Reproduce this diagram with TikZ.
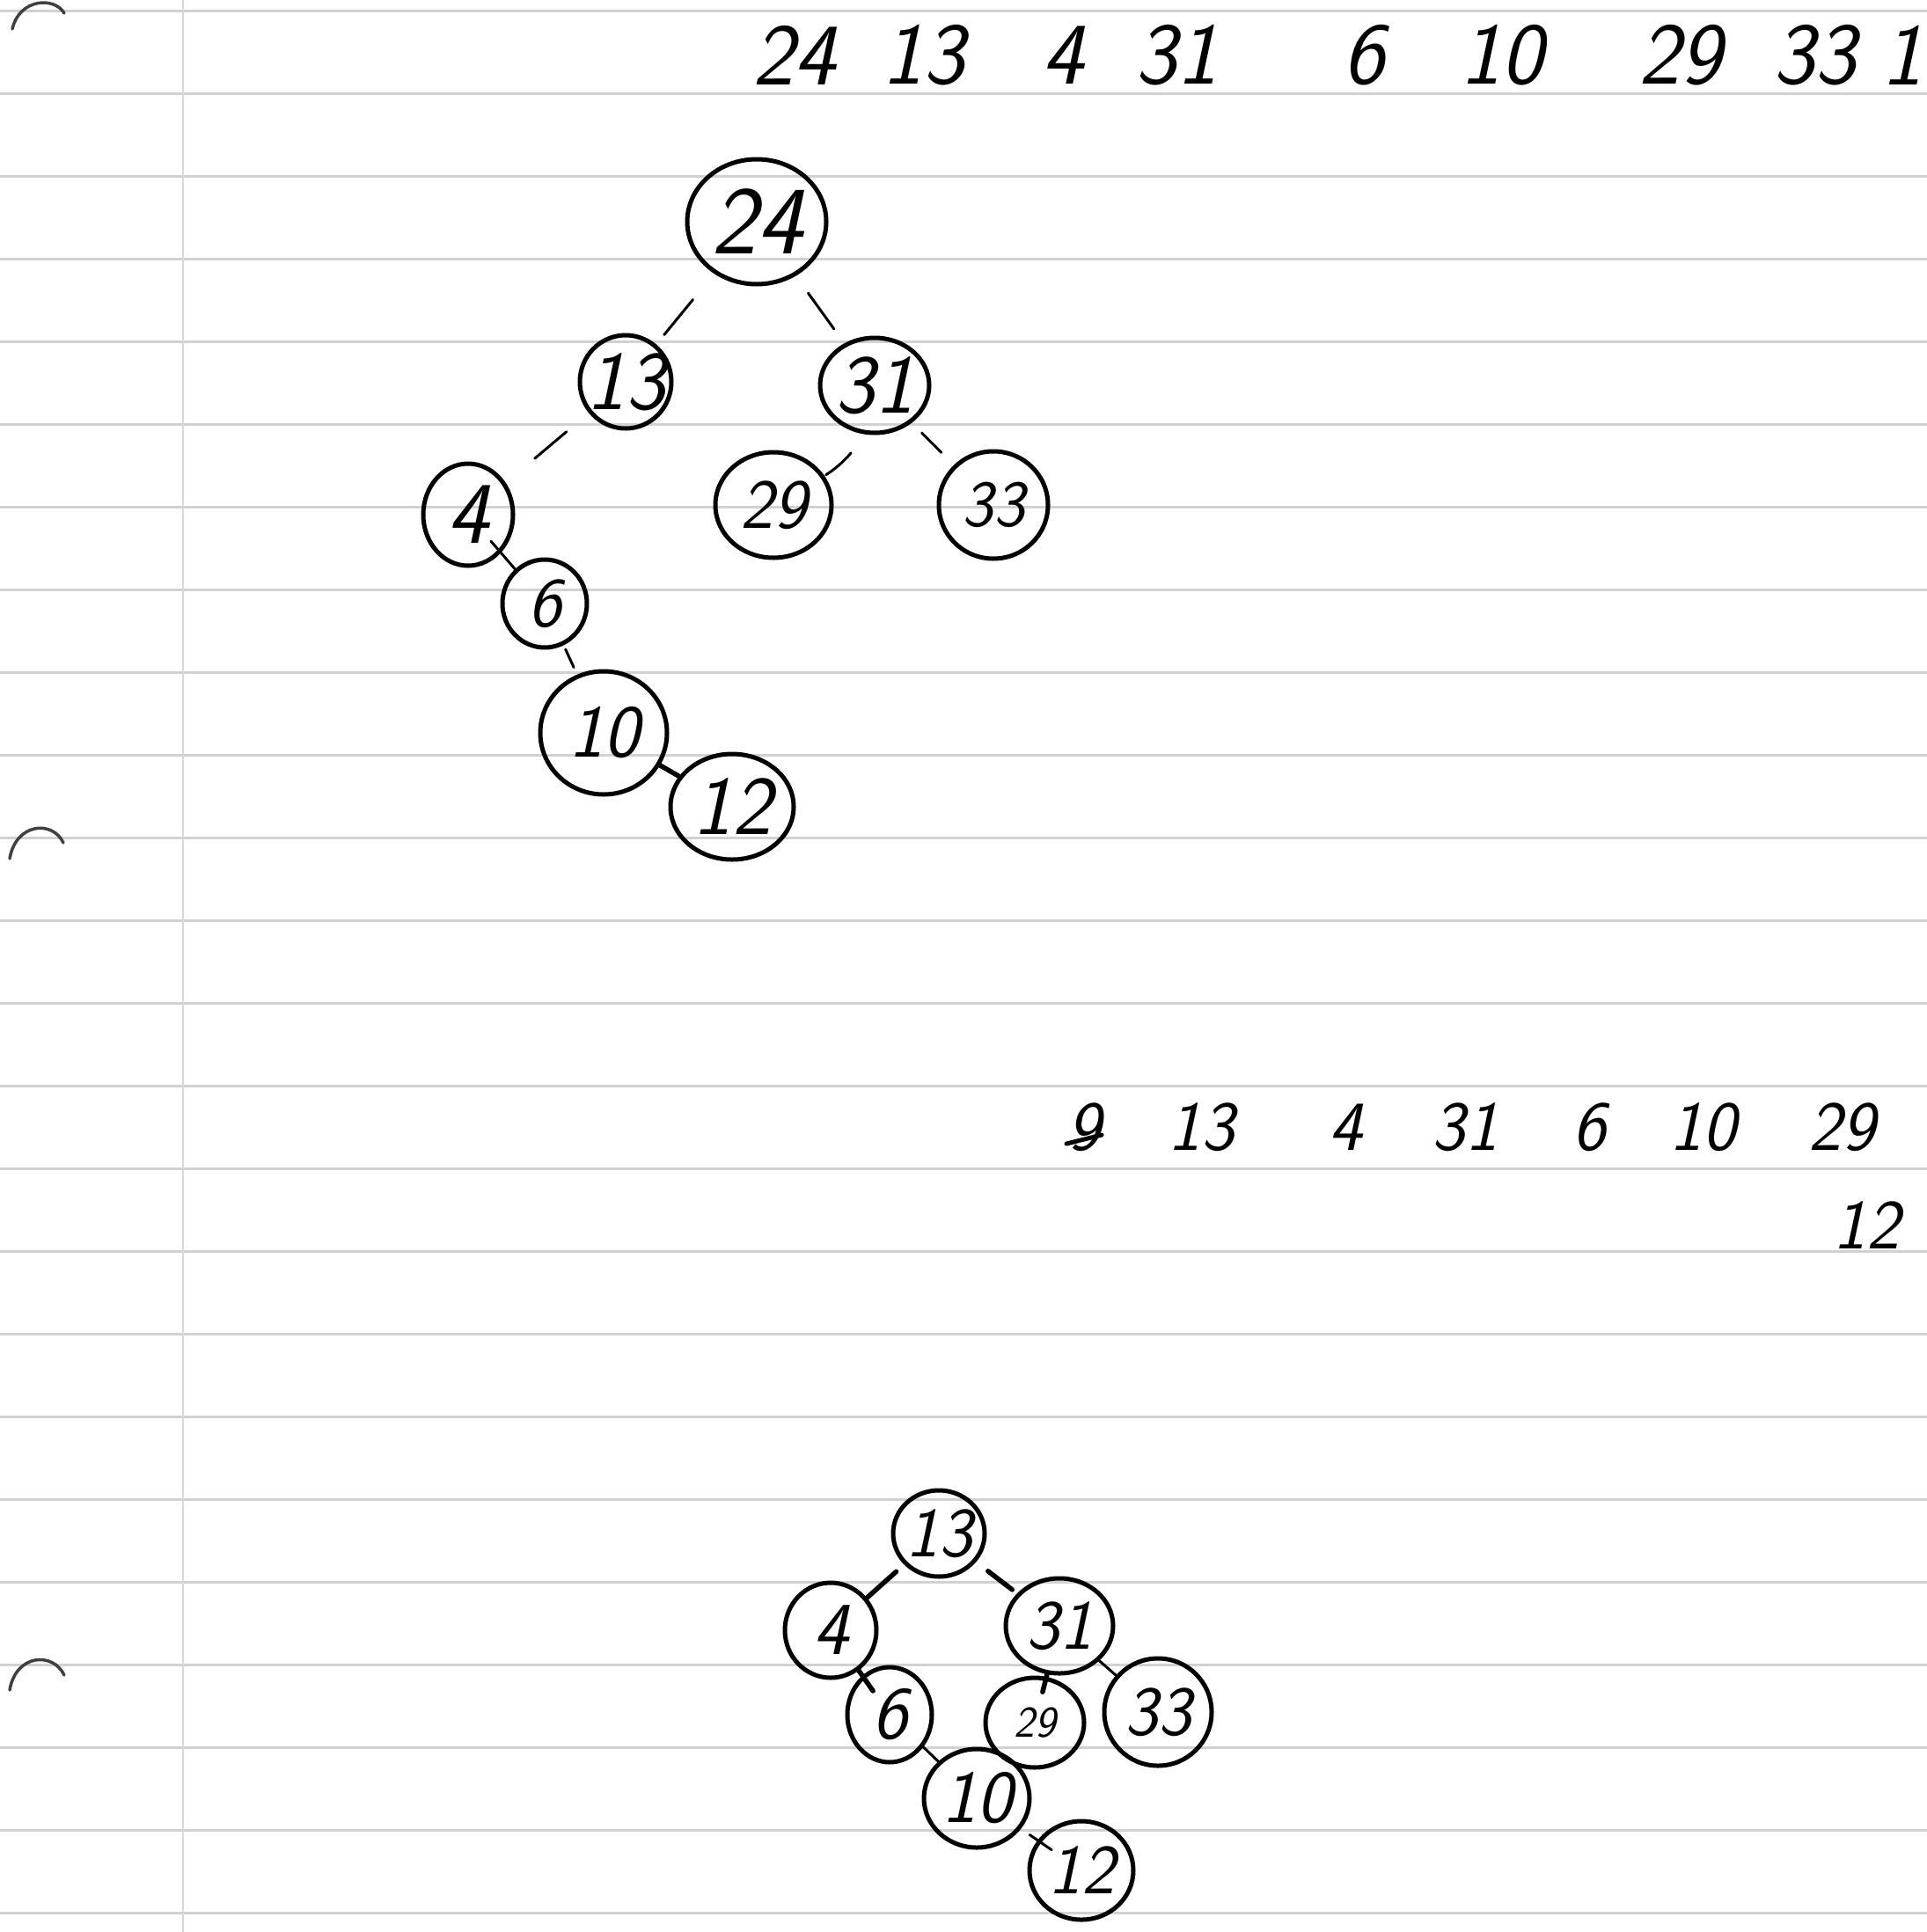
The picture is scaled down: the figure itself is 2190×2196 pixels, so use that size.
\documentclass[tikz,border=0pt]{standalone}
\usetikzlibrary{shapes.geometric}
\newcommand{\hwf}[1]{\fontsize{#1}{#1}\selectfont\sffamily\slshape}
\begin{document}
\begin{tikzpicture}[x=1pt,y=-1pt,
  rule/.style={draw=black!18, line width=3pt},
  hole/.style={draw=black!75, line width=3.5pt, line cap=round},
  bubble/.style={draw=black, line width=5pt, ellipse, inner sep=0pt, text=black},
  lbl/.style={inner sep=0pt, text=black},
  seq/.style={inner sep=0pt, text=black, font=\hwf{100}},
  seqb/.style={inner sep=0pt, text=black, font=\hwf{80}},
  edge/.style={draw=black, line width=3pt, line cap=round},
  thick edge/.style={draw=black, line width=5.5pt, line cap=round},
]
\useasboundingbox (0,0) rectangle (2190,2196);
\fill[white] (0,0) rectangle (2190,2196);
% ruled paper
\foreach \k in {0,...,23} {\draw[rule] (0,12+94*\k) -- (2190,12+94*\k);}
\draw[draw=black!15, line width=2.5pt] (208,0) -- (208,2196);
% punch holes
\draw[hole] (14,33) .. controls (22,-2) and (62,-4) .. (73,15);
\draw[hole] (11,976) .. controls (18,935) and (60,932) .. (72,958);
\draw[hole] (11,1921) .. controls (18,1880) and (60,1877) .. (73,1904);

% top sequence
\node[seq] (a1) at (902,63) {24};
\node[seq] (a2) at (1049,63) {13};
\node[seq] (a3) at (1208,63) {4};
\node[seq] (a4) at (1337,63) {31};
\node[seq] (a5) at (1550,63) {6};
\node[seq] (a6) at (1706,63) {10};
\node[seq] (a7) at (1909,63) {29};
\node[seq] (a8) at (2062,63) {33};
\node[seq, anchor=east] (a9) at (2186,63) {1};

% top tree
\node[bubble, minimum width=158, minimum height=142] (t24) at (860,252) {};
\node[bubble, minimum width=104, minimum height=106] (t13) at (711,434) {};
\node[bubble, minimum width=124, minimum height=108] (t31) at (994,438) {};
\node[bubble, minimum width=102, minimum height=116] (t4) at (532,585) {};
\node[bubble, minimum width=132, minimum height=120] (t29) at (879,574) {};
\node[bubble, minimum width=124, minimum height=122] (t33) at (1129,574) {};
\node[bubble, minimum width=96, minimum height=100] (t6) at (619,686) {};
\node[bubble, minimum width=144, minimum height=140] (t10) at (686,833) {};
\node[bubble, minimum width=140, minimum height=120] (t12) at (832,917) {};
\node[lbl, font=\hwf{110}] (l24) at (t24) {24};
\node[lbl, font=\hwf{95}] (l13) at (t13) {13};
\node[lbl, font=\hwf{95}] (l31) at (t31) {31};
\node[lbl, font=\hwf{100}] (l4) at (t4) {4};
\node[lbl, font=\hwf{80}] (l29) at (t29) {29};
\node[lbl, font=\hwf{75}] (l33) at (t33) {33};
\node[lbl, font=\hwf{80}] (l6) at (t6) {6};
\node[lbl, font=\hwf{85}] (l10) at (t10) {10};
\node[lbl, font=\hwf{95}] (l12) at (t12) {12};
\draw[edge, shorten <=38pt, shorten >=14pt] (t24) -- (t13);
\draw[edge, shorten <=24pt, shorten >=20pt] (t24) -- (t31);
\draw[edge, shorten <=33pt, shorten >=43pt] (t13) -- (t4);
\draw[edge, shorten <=24pt, shorten >=2pt] (t31) to[bend left=20] (t29);
\draw[edge, shorten <=16pt, shorten >=20pt] (t31) -- (t33);
\draw[edge, shorten <=40pt] (t4.center) -- (t6);
\draw[edge, shorten <=5pt, shorten >=9pt] (t6) -- (t10);
\draw[thick edge] (t10) -- (t12);

% bottom sequence
\node[seqb] (b1) at (1232,1281) {9};
\draw[draw=black, line width=5pt, line cap=round] (1212,1300) -- (1252,1290);
\node[seqb] (b2) at (1365,1281) {13};
\node[seqb] (b3) at (1529,1281) {4};
\node[seqb] (b4) at (1665,1281) {31};
\node[seqb] (b5) at (1806,1281) {6};
\node[seqb] (b6) at (1935,1281) {10};
\node[seqb] (b7) at (2093,1281) {29};
\node[seqb] (b8) at (2121,1393) {12};

% bottom tree
\node[bubble, minimum width=104, minimum height=98] (u13) at (1067,1743) {};
\node[bubble, minimum width=104, minimum height=108] (u4) at (944,1853) {};
\node[bubble, minimum width=122, minimum height=108] (u31) at (1204,1848) {};
\node[bubble, minimum width=96, minimum height=108] (u6) at (1011,1949) {};
\node[bubble, minimum width=112, minimum height=102] (u29) at (1176,1958) {};
\node[bubble, minimum width=122, minimum height=122] (u33) at (1316,1946) {};
\node[bubble, minimum width=120, minimum height=112] (u10) at (1110,2044) {};
\node[bubble, minimum width=118, minimum height=112] (u12) at (1229,2126) {};
\node[lbl, font=\hwf{80}] (m13) at (u13) {13};
\node[lbl, font=\hwf{85}] (m4) at (u4) {4};
\node[lbl, font=\hwf{80}] (m31) at (u31) {31};
\node[lbl, font=\hwf{85}] (m6) at (u6) {6};
\node[lbl, font=\hwf{50}] (m29) at (u29) {29};
\node[lbl, font=\hwf{80}] (m33) at (u33) {33};
\node[lbl, font=\hwf{85}] (m10) at (u10) {10};
\node[lbl, font=\hwf{80}] (m12) at (u12) {12};
\draw[thick edge, shorten <=12pt] (u13) -- (u4);
\draw[thick edge, shorten <=17pt, shorten >=7pt] (u13) -- (u31);
\draw[thick edge, shorten >=33pt] (u4) -- (u6.center);
\draw[thick edge, shorten >=36pt] (u31) -- (u29.center);
\draw[edge] (u31) -- (u33);
\draw[edge] (u6) -- (u10);
\draw[edge, shorten <=12pt, shorten >=41pt] (u10) -- (u12.center);
\end{tikzpicture}
\end{document}
